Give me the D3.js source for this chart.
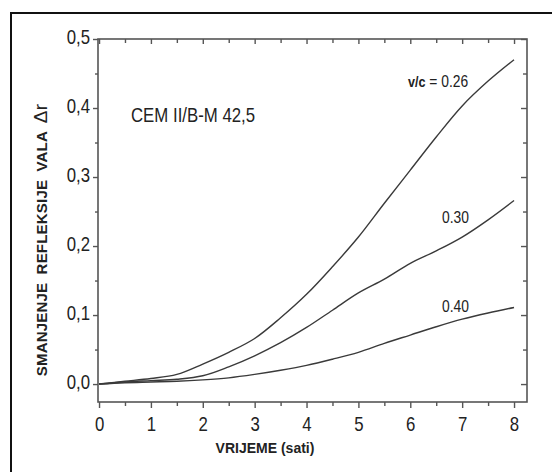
<!DOCTYPE html>
<html>
<head>
<meta charset="utf-8">
<script src="https://cdn.jsdelivr.net/npm/d3@7"></script>
<style>
  html, body { margin: 0; padding: 0; background: #fff; }
  svg { display: block; }
  .num { font-family: "Liberation Sans", Arial, sans-serif; }
  .bold { font-family: "Liberation Sans", Arial, sans-serif; font-weight: bold; }
</style>
</head>
<body>
<script>
// Hydration time (hours)
const hours = [0, 0.5, 1, 1.5, 2, 2.5, 3, 3.5, 4, 4.5, 5, 5.5, 6, 6.5, 7, 7.5, 8];

// Decrease of the reflection coefficient for each water/cement ratio
const vc026 = [0, 0.004, 0.008, 0.014, 0.029, 0.046, 0.066, 0.096, 0.130, 0.170, 0.213, 0.262, 0.310, 0.358, 0.403, 0.439, 0.470];
const vc030 = [0, 0.003, 0.005, 0.007, 0.012, 0.025, 0.041, 0.060, 0.082, 0.107, 0.132, 0.152, 0.175, 0.193, 0.213, 0.238, 0.266];
const vc040 = [0, 0.002, 0.003, 0.004, 0.006, 0.009, 0.014, 0.020, 0.027, 0.036, 0.046, 0.059, 0.071, 0.083, 0.094, 0.103, 0.111];

const seriesNames = ["0.26", "0.30", "0.40"];
const seriesValues = [vc026, vc030, vc040];

const xTicks = [0, 1, 2, 3, 4, 5, 6, 7, 8];
const xMinorTicks = [0.5, 1.5, 2.5, 3.5, 4.5, 5.5, 6.5, 7.5];
const yTicks = [0, 0.1, 0.2, 0.3, 0.4, 0.5];
const yMinorTicks = [0.05, 0.15, 0.25, 0.35, 0.45];

const W = 552, H = 472;
const NARROW = 0.84;   // horizontal squeeze for the condensed lettering
const ink = "#222";

const svg = d3.select("body").append("svg").attr("width", W).attr("height", H);
svg.append("rect").attr("width", W).attr("height", H).attr("fill", "#fff");

// outer frame (runs off the right and bottom edges)
svg.append("path")
  .attr("d", "M11,472 V13 H552")
  .attr("fill", "none").attr("stroke", "#111").attr("stroke-width", 2);

const x = d3.scaleLinear().domain([-0.02, 8.25]).range([98, 527]);
const y = d3.scaleLinear().domain([-0.026, 0.5]).range([402, 39]);

const axisColor = "#555";
const fmtY = v => d3.format(".1f")(v).replace(".", ",");

function styleAxis(g) {
  g.select(".domain").remove();
  g.selectAll(".tick line").attr("stroke", axisColor).attr("stroke-width", 1.4);
}

// condensed tick labels: squeeze each label around its own anchor
function condense(g) {
  g.selectAll(".tick text").each(function () {
    const t = d3.select(this);
    const tx = +t.attr("x") || 0, ty = +t.attr("y") || 0;
    t.attr("transform", `translate(${tx},${ty}) scale(${NARROW},1)`).attr("x", 0).attr("y", 0);
  });
}

// bottom axis: outward ticks with labels
svg.append("g").attr("transform", `translate(0,${y.range()[0]})`)
  .call(d3.axisBottom(x).tickValues(xTicks).tickSize(6).tickPadding(9).tickFormat(d3.format("d")))
  .call(styleAxis)
  .call(g => g.selectAll("text").attr("class", "num").attr("font-size", 20).attr("fill", ink))
  .call(condense);
svg.append("g").attr("transform", `translate(0,${y.range()[0]})`)
  .call(d3.axisBottom(x).tickValues(xMinorTicks).tickSize(4).tickFormat(""))
  .call(styleAxis);

// top axis: inward ticks
svg.append("g").attr("transform", `translate(0,${y.range()[1]})`)
  .call(d3.axisTop(x).tickValues(xTicks).tickSize(-5).tickFormat(""))
  .call(styleAxis);
svg.append("g").attr("transform", `translate(0,${y.range()[1]})`)
  .call(d3.axisTop(x).tickValues(xMinorTicks).tickSize(-4).tickFormat(""))
  .call(styleAxis);

// left axis: outward ticks with labels
svg.append("g").attr("transform", `translate(${x.range()[0]},0)`)
  .call(d3.axisLeft(y).tickValues(yTicks).tickSize(5).tickPadding(3).tickFormat(fmtY))
  .call(styleAxis)
  .call(g => g.selectAll("text").attr("class", "num").attr("font-size", 20).attr("fill", ink).attr("dy", "0.22em"))
  .call(condense);
svg.append("g").attr("transform", `translate(${x.range()[0]},0)`)
  .call(d3.axisLeft(y).tickValues(yMinorTicks).tickSize(3).tickFormat(""))
  .call(styleAxis);

// right axis: inward ticks
svg.append("g").attr("transform", `translate(${x.range()[1]},0)`)
  .call(d3.axisRight(y).tickValues(yTicks).tickSize(-6).tickFormat(""))
  .call(styleAxis);
svg.append("g").attr("transform", `translate(${x.range()[1]},0)`)
  .call(d3.axisRight(y).tickValues(yMinorTicks).tickSize(-4).tickFormat(""))
  .call(styleAxis);

// plot frame
svg.append("rect")
  .attr("x", x.range()[0]).attr("y", y.range()[1])
  .attr("width", x.range()[1] - x.range()[0]).attr("height", y.range()[0] - y.range()[1])
  .attr("fill", "none").attr("stroke", axisColor).attr("stroke-width", 1.6);

// curves
const line = d3.line().x(d => x(d[0])).y(d => y(d[1])).curve(d3.curveCatmullRom);
seriesValues.forEach(vals => {
  svg.append("path")
    .datum(hours.map((h, i) => [h, vals[i]]))
    .attr("d", line)
    .attr("fill", "none").attr("stroke", "#3a3a3a").attr("stroke-width", 1.4);
});

// axis titles
svg.append("text").attr("class", "bold")
  .attr("x", 265).attr("y", 453).attr("text-anchor", "middle")
  .attr("font-size", 14).attr("fill", ink)
  .text("VRIJEME (sati)");

const yTitle = svg.append("text").attr("class", "bold")
  .attr("transform", "translate(47,240) rotate(-90)")
  .attr("text-anchor", "middle").attr("font-size", 15).attr("fill", ink)
  .attr("letter-spacing", 0.2).attr("word-spacing", 4);
yTitle.append("tspan").text("SMANJENJE REFLEKSIJE VALA ");
yTitle.append("tspan").attr("font-weight", "normal").attr("font-size", 19).text("Δr");

// annotations, in condensed lettering
function note(px, py, size) {
  return svg.append("text").attr("class", "num")
    .attr("transform", `translate(${px},${py}) scale(${NARROW},1)`)
    .attr("font-size", size).attr("fill", ink);
}

note(131, 122, 20).text("CEM II/B-M 42,5");

const lbl = note(408, 87, 16.5);
lbl.append("tspan").attr("class", "bold").attr("font-size", 15).text("v/c");
lbl.append("tspan").text(" = " + seriesNames[0]);

note(442, 223, 16.5).text(seriesNames[1]);
note(442, 312, 16.5).text(seriesNames[2]);
</script>
</body>
</html>
